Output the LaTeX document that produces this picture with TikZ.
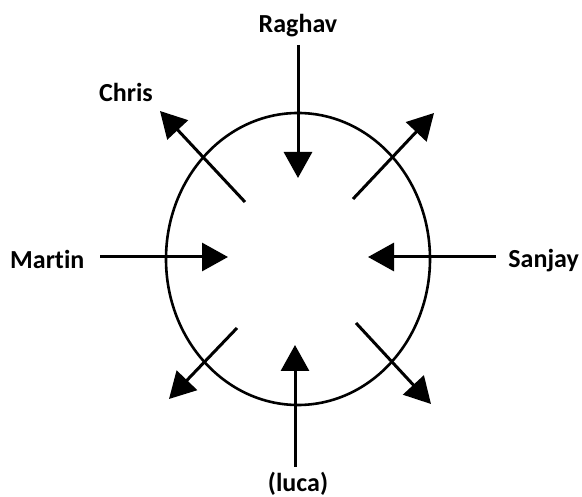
\documentclass[tikz,border=0pt]{standalone}
\usepackage{fontspec}
\setmainfont[Ligatures=NoCommon]{Carlito}
\usetikzlibrary{arrows.meta}
\begin{document}
\begin{tikzpicture}[x=1pt,y=-1pt,
  lbl/.style={font=\fontsize{26}{30}\selectfont\bfseries, inner sep=2pt},
  arr/.style={line width=3pt, -{Triangle[length=26pt,width=28pt]}},
  ring/.style={line width=2.6pt}]
\useasboundingbox (0,0) rectangle (582,497);
\draw[ring] (298,259) ellipse [x radius=132, y radius=146];
% labels
\node[lbl] (raghav) at (298,26) {Raghav};
\node[lbl] (chris) at (126,92) {Chris};
\node[lbl, anchor=west] (martin) at (8,259) {Martin};
\node[lbl, anchor=east] (sanjay) at (581,261) {Sanjay};
\node[lbl] (luca) at (298,484) {(luca)};
% endpoints
\coordinate (rtop) at (298,45);
\coordinate (rtip) at (298,178);
\coordinate (ltail) at (295,467);
\coordinate (ltip) at (295,345);
\coordinate (mtail) at (100,257);
\coordinate (mtip) at (228,257);
\coordinate (stail) at (496,257);
\coordinate (stip) at (368,257);
\coordinate (ctail) at (245,202);
\coordinate (ctip) at (160,111);
\coordinate (urtail) at (353,199);
\coordinate (urtip) at (434,113);
\coordinate (lltail) at (237,328);
\coordinate (lltip) at (169,399);
\coordinate (lrtail) at (356,323);
\coordinate (lrtip) at (431,404);
% arrows
\draw[arr] (rtop) -- (rtip);
\draw[arr] (ltail) -- (ltip);
\draw[arr] (mtail) -- (mtip);
\draw[arr] (stail) -- (stip);
\draw[arr] (ctail) -- (ctip);
\draw[arr] (urtail) -- (urtip);
\draw[arr] (lltail) -- (lltip);
\draw[arr] (lrtail) -- (lrtip);
\end{tikzpicture}
\end{document}
